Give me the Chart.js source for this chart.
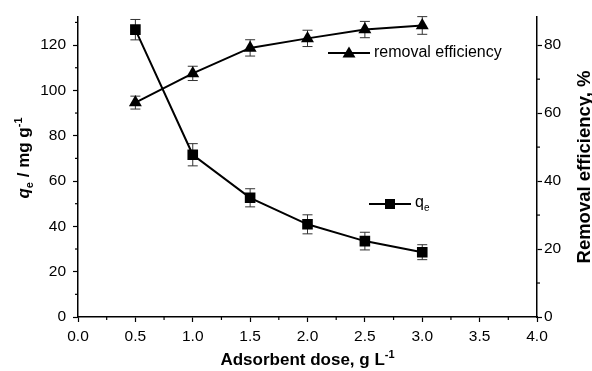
<!DOCTYPE html>
<html lang="en">
<head>
<meta charset="UTF-8">
<title>Adsorbent dose: q_e and removal efficiency</title>
<script src="https://cdn.jsdelivr.net/npm/chart.js@4.4.1/dist/chart.umd.min.js"></script>
<style>
    html, body { margin: 0; padding: 0; background: #fff; }
    #wrap { width: 592px; height: 371px; }
</style>
</head>
<body>
<div id="wrap"><canvas id="chart" width="592" height="371"></canvas></div>
<script>
// adsorbent dose, g/L
const dose = [0.5, 1.0, 1.5, 2.0, 2.5, 3.0];
// q_e, mg/g (left axis) with error
const qe = [126.8, 71.6, 52.6, 40.9, 33.5, 28.6];
const qeErr = [4.5, 4.9, 4.0, 4.2, 3.9, 3.3];
// removal efficiency, % (right axis) with error
const removal = [63.1, 71.7, 79.2, 82.0, 84.6, 85.8];
const removalErr = [1.9, 2.1, 2.4, 2.4, 2.4, 2.6];

const xTicks = [0, 0.5, 1.0, 1.5, 2.0, 2.5, 3.0, 3.5, 4.0];
const qeTicks = [0, 20, 40, 60, 80, 100, 120];
const removalTicks = [0, 20, 40, 60, 80];

const FONT = "'Liberation Sans', Arial, sans-serif";

function line(ctx, x1, y1, x2, y2) {
    ctx.beginPath();
    ctx.moveTo(x1, y1);
    ctx.lineTo(x2, y2);
    ctx.stroke();
}

// text made of pieces: {t, size, bold, italic, dy}
function drawRich(ctx, parts, cx, cy, angle) {
    ctx.save();
    ctx.translate(cx, cy);
    ctx.rotate(angle);
    ctx.textBaseline = 'alphabetic';
    ctx.textAlign = 'left';
    let total = 0;
    parts.forEach(p => {
        ctx.font = (p.italic ? 'italic ' : '') + (p.bold ? 'bold ' : '') + p.size + 'px ' + FONT;
        p.w = ctx.measureText(p.t).width;
        total += p.w;
    });
    let x = -total / 2;
    parts.forEach(p => {
        ctx.font = (p.italic ? 'italic ' : '') + (p.bold ? 'bold ' : '') + p.size + 'px ' + FONT;
        ctx.fillText(p.t, x, p.dy || 0);
        x += p.w;
    });
    ctx.restore();
}

function drawErrors(ctx, xs, ys, vals, errs) {
    dose.forEach((d, i) => {
        const px = xs.getPixelForValue(d);
        const top = ys.getPixelForValue(vals[i] + errs[i]);
        const bot = ys.getPixelForValue(vals[i] - errs[i]);
        line(ctx, px, top, px, bot);
        line(ctx, px - 5, top, px + 5, top);
        line(ctx, px - 5, bot, px + 5, bot);
    });
}

const errorBars = {
    id: 'errorBars',
    beforeDatasetsDraw(chart) {
        const ctx = chart.ctx;
        const { x, y, y1 } = chart.scales;
        ctx.save();
        ctx.strokeStyle = '#333';
        ctx.lineWidth = 1;
        drawErrors(ctx, x, y, qe, qeErr);
        drawErrors(ctx, x, y1, removal, removalErr);
        ctx.restore();
    }
};

// minor ticks, legend and axis titles
const decorations = {
    id: 'decorations',
    afterDraw(chart) {
        const ctx = chart.ctx;
        const { x, y, y1 } = chart.scales;
        const area = chart.chartArea;
        ctx.save();
        ctx.strokeStyle = '#000';
        ctx.lineWidth = 1.2;
        for (let i = 0; i < xTicks.length - 1; i++) {
            const px = x.getPixelForValue((xTicks[i] + xTicks[i + 1]) / 2);
            line(ctx, px, area.bottom, px, area.bottom + 3);
        }
        for (let i = 0; i < qeTicks.length; i++) {
            const py = y.getPixelForValue(qeTicks[i] + 10);
            if (py > area.top) line(ctx, area.left, py, area.left - 3, py);
        }
        for (let i = 0; i < removalTicks.length; i++) {
            const py = y1.getPixelForValue(removalTicks[i] + 10);
            if (py > area.top) line(ctx, area.right, py, area.right + 3, py);
        }

        // legend entries
        ctx.lineWidth = 2;
        line(ctx, 328, 53, 370, 53);
        ctx.fillStyle = '#000';
        ctx.beginPath();
        ctx.moveTo(349, 46.5);
        ctx.lineTo(355.5, 57.5);
        ctx.lineTo(342.5, 57.5);
        ctx.closePath();
        ctx.fill();
        ctx.font = '16px ' + FONT;
        ctx.textBaseline = 'middle';
        ctx.fillText('removal efficiency', 374, 53);

        line(ctx, 369, 204, 411, 204);
        ctx.fillRect(385, 199, 10, 10);
        ctx.fillText('q', 415, 203);
        ctx.font = '10px ' + FONT;
        ctx.fillText('e', 424, 208);

        // axis titles
        drawRich(ctx, [
            { t: 'Adsorbent dose, g L', size: 17, bold: true },
            { t: '-1', size: 11, bold: true, dy: -7 }
        ], (area.left + area.right) / 2, 365, 0);
        drawRich(ctx, [
            { t: 'q', size: 17, bold: true, italic: true },
            { t: 'e', size: 11, bold: true, dy: 4 },
            { t: ' / mg g', size: 17, bold: true },
            { t: '-1', size: 11, bold: true, dy: -7 }
        ], 29, 158, -Math.PI / 2);
        drawRich(ctx, [
            { t: 'Removal efficiency, %', size: 18.5, bold: true }
        ], 590, 167, -Math.PI / 2);
        ctx.restore();
    }
};

const tickFont = { family: FONT, size: 15.5 };

new Chart(document.getElementById('chart'), {
    type: 'line',
    data: {
        datasets: [{
            label: 'qe',
            data: dose.map((d, i) => ({ x: d, y: qe[i] })),
            yAxisID: 'y',
            borderColor: '#000',
            backgroundColor: '#000',
            borderWidth: 2,
            pointStyle: 'rect',
            pointRadius: 7.5,
            pointBorderWidth: 0,
            tension: 0
        }, {
            label: 'removal efficiency',
            data: dose.map((d, i) => ({ x: d, y: removal[i] })),
            yAxisID: 'y1',
            borderColor: '#000',
            backgroundColor: '#000',
            borderWidth: 2,
            pointStyle: 'triangle',
            pointRadius: 7.5,
            pointBorderWidth: 0,
            tension: 0
        }]
    },
    options: {
        responsive: false,
        animation: false,
        devicePixelRatio: 1,
        layout: { padding: { top: 14, left: 0, right: 0, bottom: 0 } },
        plugins: { legend: { display: false }, tooltip: { enabled: false } },
        scales: {
            x: {
                type: 'linear',
                min: 0,
                max: 4,
                afterBuildTicks: s => { s.ticks = xTicks.map(v => ({ value: v })); },
                afterFit: s => { s.height = 54; },
                ticks: { font: tickFont, color: '#000', padding: 5, maxRotation: 0,
                         callback: v => v.toFixed(1) },
                grid: { display: true, drawOnChartArea: false, tickLength: 5, tickColor: '#000', tickWidth: 1.2 },
                border: { display: true, color: '#000', width: 1.5 }
            },
            y: {
                position: 'left',
                min: 0,
                max: 132.7,
                afterBuildTicks: s => { s.ticks = qeTicks.map(v => ({ value: v })); },
                afterFit: s => { s.width = 78; },
                ticks: { font: tickFont, color: '#000', padding: 7 },
                grid: { display: true, drawOnChartArea: false, tickLength: 5, tickColor: '#000', tickWidth: 1.2 },
                border: { display: true, color: '#000', width: 1.5 }
            },
            y1: {
                position: 'right',
                min: 0,
                max: 88.5,
                afterBuildTicks: s => { s.ticks = removalTicks.map(v => ({ value: v })); },
                afterFit: s => { s.width = 55; },
                ticks: { font: tickFont, color: '#000', padding: 2 },
                grid: { display: true, drawOnChartArea: false, tickLength: 5, tickColor: '#000', tickWidth: 1.2 },
                border: { display: true, color: '#000', width: 1.5 }
            }
        }
    },
    plugins: [errorBars, decorations]
});
</script>
</body>
</html>
